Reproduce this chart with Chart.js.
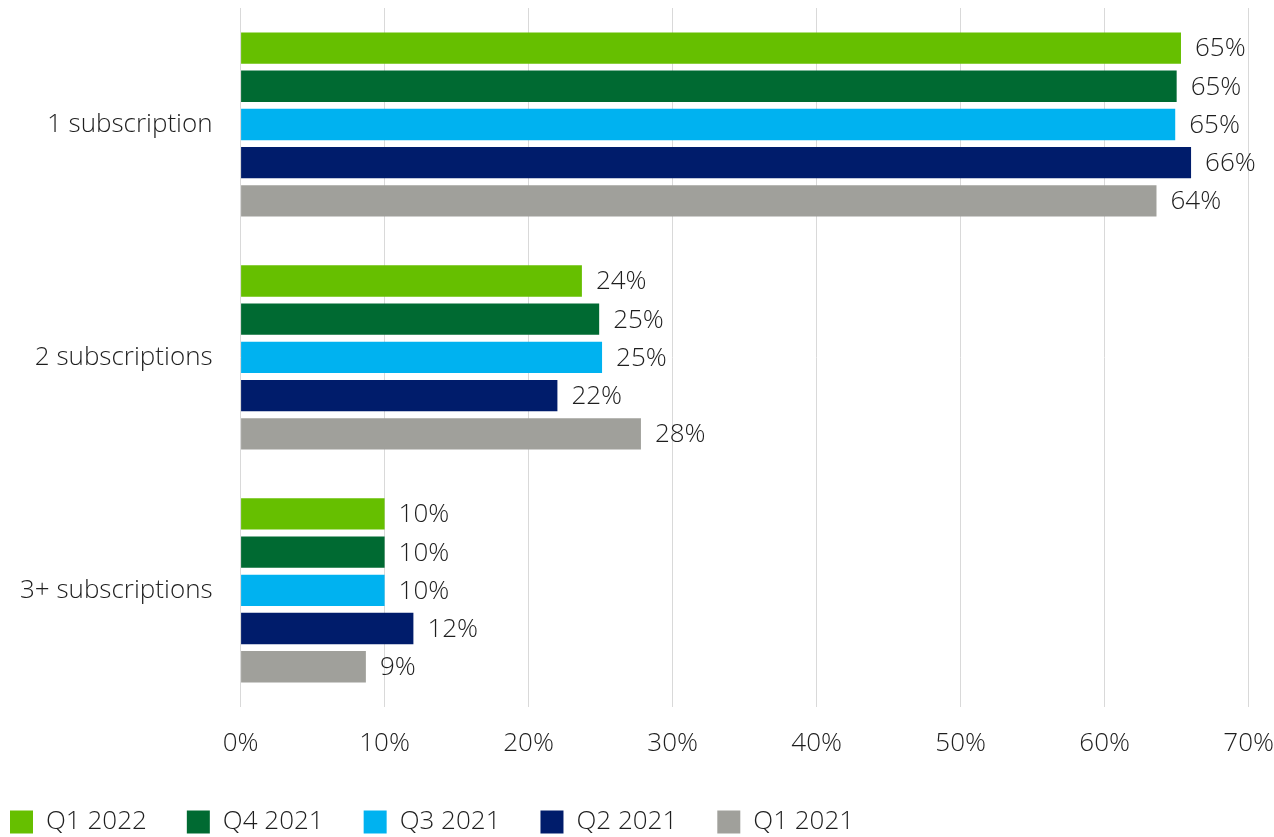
<!DOCTYPE html>
<html lang="en">
<head>
  <meta charset="UTF-8" />
  <title>Subscriptions per household</title>
  <script src="https://cdn.jsdelivr.net/npm/chart.js"></script>
  <style>
    body {
      margin: 0;
      background: #ffffff;
    }
    #chartContainer {
      width: 1274px;
      height: 837px;
    }
  </style>
</head>
<body>
  <div id="chartContainer">
    <canvas id="subsChart" width="1274" height="837"></canvas>
  </div>

  <script>
    const categories = ['1 subscription', '2 subscriptions', '3+ subscriptions'];
    const seriesNames = ['Q1 2022', 'Q4 2021', 'Q3 2021', 'Q2 2021', 'Q1 2021'];
    const seriesColors = ['#66bf00', '#006a32', '#00b2f0', '#001c6b', '#a0a09b'];

    const q1_2022 = [65.3, 23.7, 10.0];
    const q4_2021 = [65.0, 24.9, 10.0];
    const q3_2021 = [64.9, 25.1, 10.0];
    const q2_2021 = [66.0, 22.0, 12.0];
    const q1_2021 = [63.6, 27.8, 8.7];
    const seriesValues = [q1_2022, q4_2021, q3_2021, q2_2021, q1_2021];

    const xTicks = [0, 10, 20, 30, 40, 50, 60, 70];

    const FONT = "'Open Sans', sans-serif";
    const TEXT = '#1e1e1e';
    const SIZE = 26;

    // value labels at the end of each bar
    const barLabels = {
      id: 'barLabels',
      afterDatasetsDraw(chart) {
        const ctx = chart.ctx;
        ctx.save();
        ctx.font = `300 ${SIZE}px ${FONT}`;
        ctx.fillStyle = TEXT;
        ctx.textBaseline = 'middle';
        ctx.textAlign = 'left';
        chart.data.datasets.forEach((ds, i) => {
          chart.getDatasetMeta(i).data.forEach((bar, j) => {
            ctx.fillText(Math.round(ds.data[j]) + '%', bar.x + 14, bar.y + 1);
          });
        });
        ctx.restore();
      }
    };

    // legend hugs the left edge like the original
    const legendShift = {
      id: 'legendShift',
      afterLayout(chart) {
        chart.legend.left -= 50;
        chart.legend.right -= 50;
      }
    };

    const ctx = document.getElementById('subsChart').getContext('2d');
    new Chart(ctx, {
      type: 'bar',
      data: {
        labels: categories,
        datasets: seriesNames.map((name, i) => ({
          label: name,
          data: seriesValues[i],
          backgroundColor: seriesColors[i],
          categoryPercentage: 0.82,
          barPercentage: 0.82
        }))
      },
      options: {
        indexAxis: 'y',
        responsive: false,
        animation: false,
        layout: { padding: { top: 8, right: 4, left: 20, bottom: -8 } },
        scales: {
          x: {
            min: 0,
            max: 70,
            afterBuildTicks(axis) {
              axis.ticks = xTicks.map(v => ({ value: v }));
            },
            afterFit(axis) {
              axis.height += 10;
            },
            grid: { color: '#d9d9d9', drawTicks: true, tickLength: 21, tickColor: 'rgba(0,0,0,0)', lineWidth: 1 },
            border: { display: false },
            ticks: {
              padding: 0,
              color: TEXT,
              maxRotation: 0,
              font: { family: FONT, size: SIZE, weight: 300 },
              callback: v => v + '%'
            }
          },
          y: {
            grid: { display: false, drawTicks: true, tickLength: 28 },
            border: { display: false },
            ticks: {
              padding: 0,
              color: TEXT,
              font: { family: FONT, size: SIZE, weight: 300, lineHeight: 0.6 }
            }
          }
        },
        plugins: {
          legend: {
            position: 'bottom',
            align: 'start',
            labels: {
              boxWidth: 23,
              boxHeight: 23,
              padding: 40,
              color: TEXT,
              font: { family: FONT, size: SIZE, weight: 300 }
            }
          },
          tooltip: { enabled: false }
        }
      },
      plugins: [barLabels, legendShift]
    });
  </script>
</body>
</html>
